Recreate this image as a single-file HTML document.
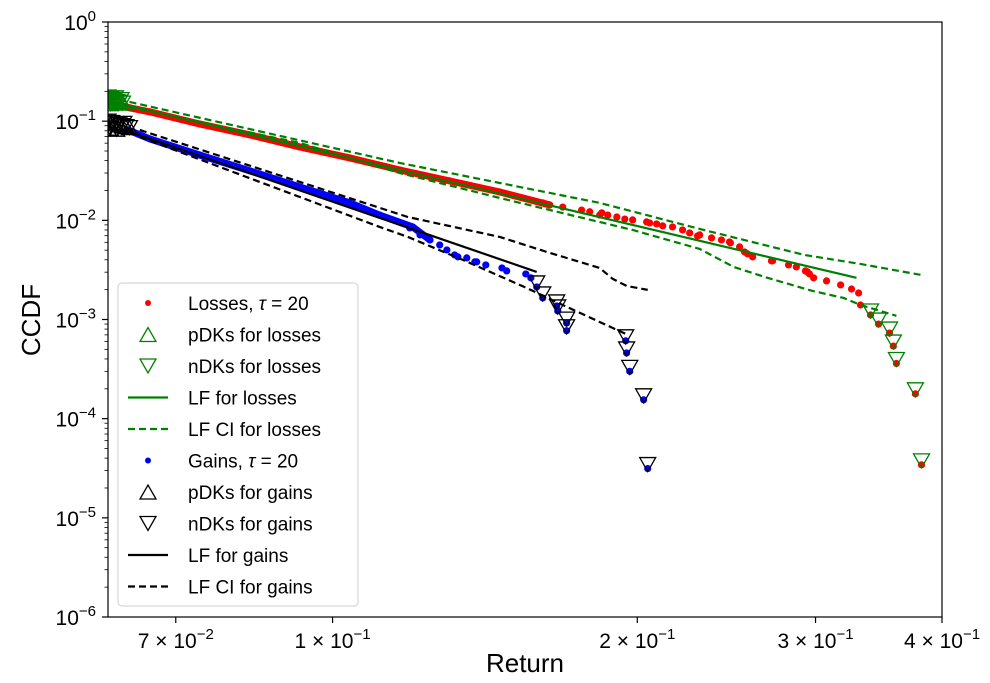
<!DOCTYPE html>
<html><head><meta charset="utf-8"><style>
body{margin:0;background:#fff;}
svg text{font-family:"Liberation Sans","DejaVu Sans",sans-serif;}
</style></head><body>
<svg id="chart" width="990" height="678" xmlns="http://www.w3.org/2000/svg"></svg>
<script>
// ---- data ----
const lossX=[0.0603,0.0631,0.0660,0.0739,0.0829,0.0928,0.1040,0.1165,0.1305,0.1463,0.1639,0.1836,0.2057,0.2305,0.2472,0.2553,0.2714,0.2872,0.2945,0.2987,0.3076,0.3176,0.3256,0.3309,0.3323];
const lossY=[0.153,0.136,0.124,0.0937,0.0726,0.0550,0.0426,0.0322,0.0250,0.0193,0.0143,0.0113,0.00941,0.00713,0.00592,0.00480,0.00390,0.00339,0.00302,0.00263,0.00245,0.00223,0.00203,0.00185,0.00140];
const lossX2=[0.1613,0.1688,0.1762,0.1795,0.1845,0.1870,0.1909,0.1944,0.1979,0.2043,0.2090,0.2119,0.2167,0.2217,0.2253,0.2294,0.2368,0.2422,0.2467,0.2524,0.2570,0.2600,0.2721,0.2821,0.2932,0.2959];
const lossY2=[0.0150,0.0136,0.0127,0.0122,0.0119,0.0113,0.0108,0.0103,0.0101,0.00964,0.00920,0.00879,0.00858,0.00800,0.00746,0.00696,0.00665,0.00634,0.00605,0.00540,0.00459,0.00428,0.00390,0.00355,0.00309,0.00288];
const lossTailX=[0.3400,0.3462,0.3550,0.3581,0.3606,0.3765,0.3818];
const lossTailY=[0.00111,0.00090,0.00073,0.00054,0.00036,0.000178,0.0000342];
const gainX=[0.0628,0.0660,0.0739,0.0829,0.0928,0.1040,0.1113,0.1200,0.1248,0.1297,0.1330,0.1388,0.1417,0.1470,0.1486,0.1552,0.1570,0.1591,0.1613];
const gainY=[0.0815,0.0662,0.0456,0.0315,0.0217,0.0150,0.0113,0.00858,0.00634,0.00503,0.00428,0.00381,0.00355,0.00331,0.00309,0.00288,0.00263,0.00213,0.00165];
const gainX2=[0.1192,0.1220,0.1276,0.1320,0.1357,0.1382];
const gainY2=[0.00838,0.00713,0.00565,0.00448,0.00418,0.00381];
const gainTailX=[0.1665,0.1669,0.1703,0.1703,0.1948,0.1952,0.1966,0.2029,0.2048];
const gainTailY=[0.00137,0.00122,0.00092,0.00077,0.00061,0.00046,0.00030,0.000155,0.0000314];
const lossCluX=[0.0600,0.0604,0.0608,0.0612,0.0616,0.0620,0.0603,0.0610,0.0618];
const lossCluY=[0.175,0.168,0.162,0.158,0.155,0.152,0.150,0.172,0.165];
const gainCluX=[0.0600,0.0605,0.0610,0.0615,0.0620,0.0625,0.0630,0.0603,0.0612,0.0622];
const gainCluY=[0.100,0.097,0.094,0.092,0.090,0.088,0.086,0.085,0.083,0.095];
const lfLossX=[0.0600,0.3293], lfLossY=[0.160,0.00263];
const ciLossUpX=[0.0600,0.1165,0.1463,0.1836,0.2305,0.2924,0.3323,0.3809];
const ciLossUpY=[0.175,0.0379,0.0238,0.0150,0.00819,0.00448,0.00363,0.00282];
const ciLossLoX=[0.0600,0.0928,0.1165,0.1463,0.1979,0.2305,0.2490,0.2690,0.2980,0.3198,0.3323,0.3606];
const ciLossLoY=[0.153,0.0603,0.0300,0.0168,0.00800,0.00515,0.00339,0.00263,0.00194,0.00165,0.00140,0.00109];
const lfGainX=[0.0631,0.1591], lfGainY=[0.0778,0.00302];
const ciGainUpX=[0.0645,0.1187,0.1463,0.1628,0.1836,0.1891,0.1952,0.2048];
const ciGainUpY=[0.0815,0.0108,0.00680,0.00480,0.00331,0.00257,0.00218,0.00199];
const ciGainLoX=[0.0645,0.1113,0.1187,0.1345,0.1555,0.1696,0.1957];
const ciGainLoY=[0.0693,0.00858,0.00680,0.00399,0.00208,0.00137,0.00070];
const yTickExp=[0,-1,-2,-3,-4,-5,-6];
const xTickVals=[0.07,0.1,0.2,0.3,0.4];
const xTickMant=["7","1","2","3","4"];
const xTickExp=["−2","−1","−1","−1","−1"];
const legendLabels=["Losses, ","pDKs for losses","nDKs for losses","LF for losses","LF CI for losses","Gains, ","pDKs for gains","nDKs for gains","LF for gains","LF CI for gains"];

// ---- layout ----
const L=108,R=942,T=22,B=617;
const xMin=Math.log10(0.06),xMax=Math.log10(0.4);
const sx=v=>L+(Math.log10(v)-xMin)/(xMax-xMin)*(R-L);
const sy=v=>T+(0-Math.log10(v))/6*(B-T);
const svg=document.getElementById('chart');
const NS='http://www.w3.org/2000/svg';
function mk(tag,attrs,parent){const e=document.createElementNS(NS,tag);for(const k in attrs)e.setAttribute(k,attrs[k]);(parent||svg).appendChild(e);return e;}

const defs=mk('defs',{});const cp=mk('clipPath',{id:'pc'},defs);mk('rect',{x:L,y:T,width:R-L,height:B-T},cp);
const plot=mk('g',{'clip-path':'url(#pc)'});



function line(xs,ys,color,dash,name){
  const p=mk('polyline',{points:xs.map((x,i)=>sx(x)+','+sy(ys[i])).join(' '),fill:'none',stroke:color,'stroke-width':2.2,'stroke-dasharray':dash||''},plot);
  
  
}
function dots(xs,ys,color,name){
  const g=mk('g',{},plot);
  
  
  xs.forEach((x,i)=>{const c=mk('circle',{cx:sx(x),cy:sy(ys[i]),r:3.6,fill:color},g);
    
    });
}
function band(xs,ys,color,name){
  const p=mk('polyline',{points:xs.map((x,i)=>sx(x)+','+sy(ys[i])).join(' '),fill:'none',stroke:color,'stroke-width':7,'stroke-linejoin':'round','stroke-linecap':'round'},plot);
  
  
}
function tri(cx,cy,down,color,parent){
  const w=8,h=14;
  const pts=down?[[cx-w,cy-h/2],[cx+w,cy-h/2],[cx,cy+h/2]]:[[cx-w,cy+h/2],[cx+w,cy+h/2],[cx,cy-h/2]];
  return mk('polygon',{points:pts.map(p=>p.join(',')).join(' '),fill:'none',stroke:color,'stroke-width':1.3},parent);
}
function tris(xs,ys,down,color,name,off){
  const g=mk('g',{},plot);
  
  
  xs.forEach((x,i)=>{const t=tri(sx(x),sy(ys[i])-(off||0),down,color,g);
    
    });
}

band(lossX.slice(0,11),lossY.slice(0,11),'red','loss-dense-band');
dots(lossX,lossY,'red','loss-points');
dots(lossX2,lossY2,'red','loss-points-mid');
dots(lossTailX,lossTailY,'red','loss-tail-points');
tris(lossCluX,lossCluY,true,'green','loss-ndk-cluster');
tris(lossCluX,lossCluY,false,'green','loss-pdk-cluster');
tris(lossTailX,lossTailY,true,'green','loss-ndk-markers',4);
line(lfLossX,lfLossY,'green','','lf-losses-line');
line(ciLossUpX,ciLossUpY,'green','7,4','ci-losses-upper');
line(ciLossLoX,ciLossLoY,'green','7,4','ci-losses-lower');

band(gainX.slice(0,9),gainY.slice(0,9),'blue','gain-dense-band');
dots(gainX,gainY,'blue','gain-points');
dots(gainX2,gainY2,'blue','gain-points-mid');
dots(gainTailX,gainTailY,'blue','gain-tail-points');
tris(gainCluX,gainCluY,true,'black','gain-ndk-cluster');
tris(gainCluX,gainCluY,false,'black','gain-pdk-cluster');
tris(gainTailX,gainTailY,true,'black','gain-ndk-markers',4);
tris(gainX.slice(17),gainY.slice(17),true,'black','gain-ndk-markers-2',4);
line(lfGainX,lfGainY,'black','','lf-gains-line');
line(ciGainUpX,ciGainUpY,'black','7,4','ci-gains-upper');
line(ciGainLoX,ciGainLoY,'black','7,4','ci-gains-lower');

const fr=mk('rect',{x:L,y:T,width:R-L,height:B-T,fill:'none',stroke:'#000','stroke-width':1.2});



yTickExp.forEach(e=>{
  const y=sy(Math.pow(10,e));
  mk('line',{x1:L-6,x2:L,y1:y,y2:y,stroke:'#000','stroke-width':1.2});
  const t=mk('text',{x:L-12,y:y+8,'text-anchor':'end','font-size':21});
  
  
  t.innerHTML='10<tspan dy="-9" font-size="15">'+(e===0?'0':'−'+(-e))+'</tspan>';
  if(e>-6)for(let m=2;m<10;m++){const yy=sy(m*Math.pow(10,e-1));mk('line',{x1:L-3.5,x2:L,y1:yy,y2:yy,stroke:'#000','stroke-width':0.8});}
});
xTickVals.forEach((v,i)=>{
  const x=sx(v);
  mk('line',{x1:x,x2:x,y1:B,y2:B+6,stroke:'#000','stroke-width':1.2});
  const t=mk('text',{x:x,y:B+31,'text-anchor':'middle','font-size':21});
  
  
  t.innerHTML=xTickMant[i]+' × 10<tspan dy="-9" font-size="15">'+xTickExp[i]+'</tspan>';
});
const xt=mk('text',{x:525,y:672,'text-anchor':'middle','font-size':26});xt.textContent='Return';


const yt=mk('text',{x:0,y:0,'text-anchor':'middle','font-size':26,transform:'translate(40,320) rotate(-90)'});yt.textContent='CCDF';



const lg=mk('g',{});


mk('rect',{x:118,y:283,width:240,height:323,rx:4,fill:'#fff','fill-opacity':0.85,stroke:'#ccc','stroke-width':1},lg);
legendLabels.forEach((lab,i)=>{
  const y=303+i*31.5;
  const ent=mk('g',{},lg);
  
  
  const col=i<5?'green':'black';
  const k=i%5;
  if(k===0)mk('circle',{cx:148,cy:y,r:3,fill:i<5?'red':'blue'},ent);
  else if(k===1)tri(148,y,false,col,ent);
  else if(k===2)tri(148,y,true,col,ent);
  else mk('line',{x1:128,x2:168,y1:y,y2:y,stroke:col,'stroke-width':2.2,'stroke-dasharray':k===4?'7,4':''},ent);
  const t=mk('text',{x:188,y:y+7,'font-size':19},ent);
  if(k===0)t.innerHTML=lab+'<tspan font-style="italic">τ</tspan> = 20';else t.textContent=lab;
});
</script>
</body></html>
